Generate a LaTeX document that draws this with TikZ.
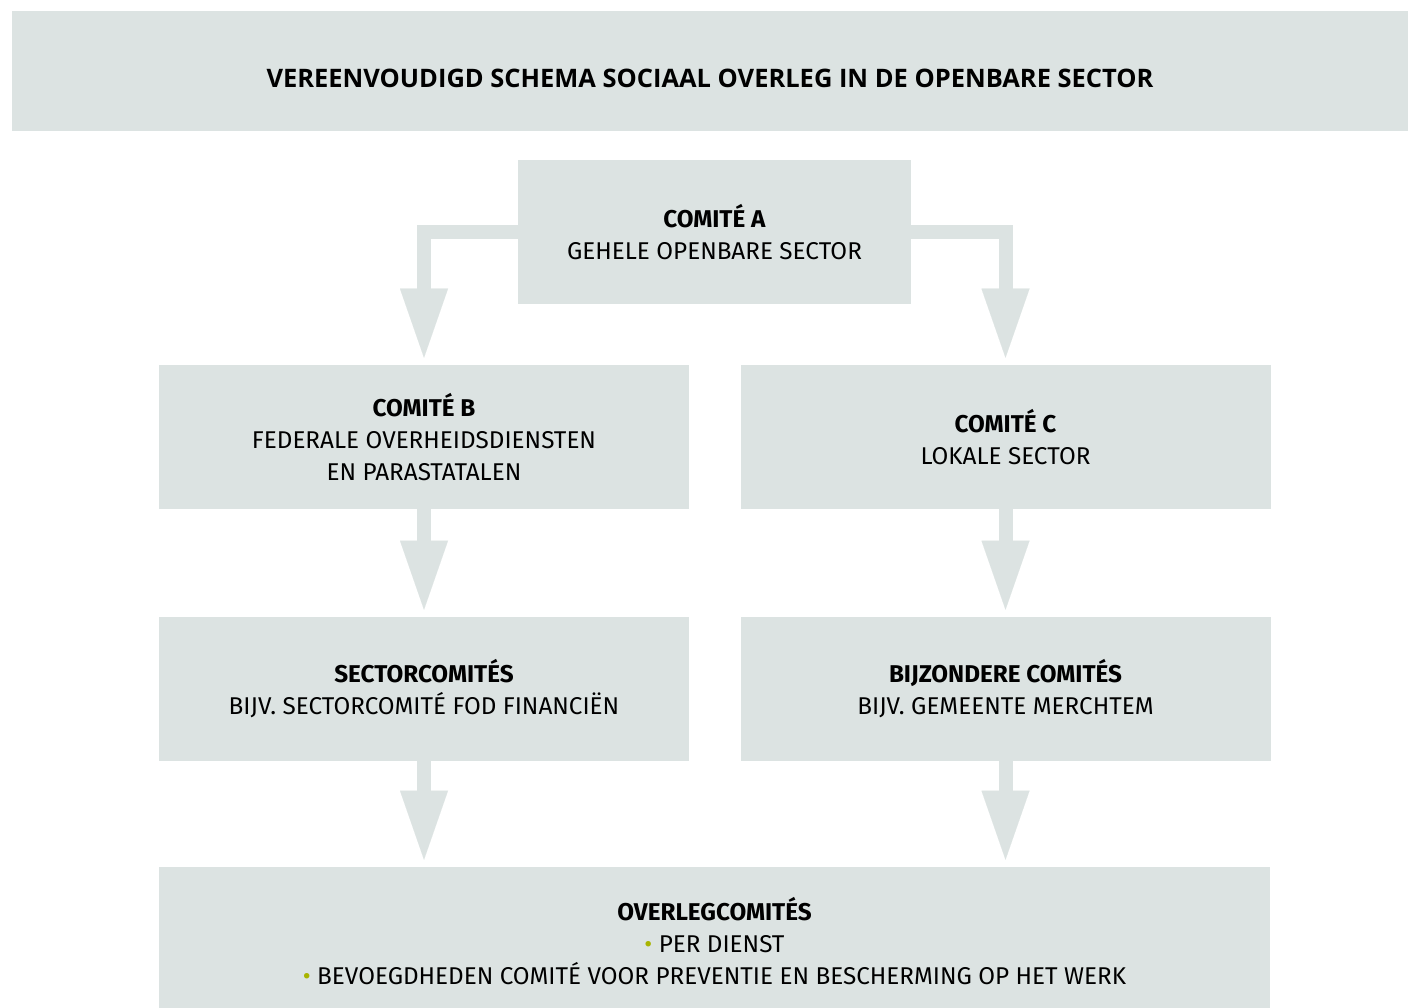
\documentclass[tikz,border=0pt]{standalone}
\usepackage{fontspec}
\setmainfont{Fira Sans}
\newfontfamily\kopfont{Open Sans}
\usetikzlibrary{arrows.meta}

\definecolor{blokgrijs}{HTML}{DCE3E2}
\definecolor{bolgroen}{HTML}{A8B400}

\tikzset{
  blok/.style={fill=blokgrijs, inner sep=0pt, align=center,
    font=\fontsize{18.2}{24}\selectfont},
  smal/.style={blok, minimum width=397.5pt, minimum height=108pt},
  pijl/.style={draw=blokgrijs, line width=10.5pt, line join=miter,
    shorten >=5.25pt,
    -{Triangle[length=51.75pt, width=36pt, line width=0.01pt]}},
}
\newcommand{\bol}{{\color{bolgroen}\textbullet}}

\begin{document}
\begin{tikzpicture}[x=0.75pt, y=-0.75pt]
	\useasboundingbox (0,0) rectangle (1408,1007);
	
	\node[blok, minimum width=1047pt, minimum height=90pt, text height=25pt,
	      font=\kopfont\bfseries\fontsize{19.1}{22}\selectfont] (titel) at (710,71)
	      {VEREENVOUDIGD SCHEMA SOCIAAL OVERLEG IN DE OPENBARE SECTOR};
	
	\node[blok, minimum width=294.75pt, minimum height=108pt] (comA) at (714.5,232)
	      {\textbf{COMITÉ A}\\GEHELE OPENBARE SECTOR};
	
	\node[smal] (comB) at (424,437)
	      {\textbf{COMITÉ B}\\FEDERALE OVERHEIDSDIENSTEN\\EN PARASTATALEN};
	\node[smal] (comC) at (1005.5,437)
	      {\textbf{COMITÉ C}\\LOKALE SECTOR};
	
	\node[smal] (sector) at (424,689)
	      {\textbf{SECTORCOMITÉS}\\BIJV. SECTORCOMITÉ FOD FINANCIËN};
	\node[smal] (bijz) at (1005.5,689)
	      {\textbf{BIJZONDERE COMITÉS}\\BIJV. GEMEENTE MERCHTEM};
	
	\node[blok, minimum width=833.25pt, minimum height=111pt] (overleg) at (714.5,941)
	      {\textbf{OVERLEGCOMITÉS}\\\bol\ PER DIENST\\
	       \bol\ BEVOEGDHEDEN COMITÉ VOOR PREVENTIE EN BESCHERMING OP HET WERK};
	
	\draw[pijl] (comA.west) -| (comB.north);
	\draw[pijl] (comA.east) -| (comC.north);
	
	\draw[pijl] (comB) -- (sector);
	\draw[pijl] (comC) -- (bijz);
	
	\draw[pijl] (sector) -- (sector |- overleg.north);
	\draw[pijl] (bijz) -- (bijz |- overleg.north);
\end{tikzpicture}
\end{document}
